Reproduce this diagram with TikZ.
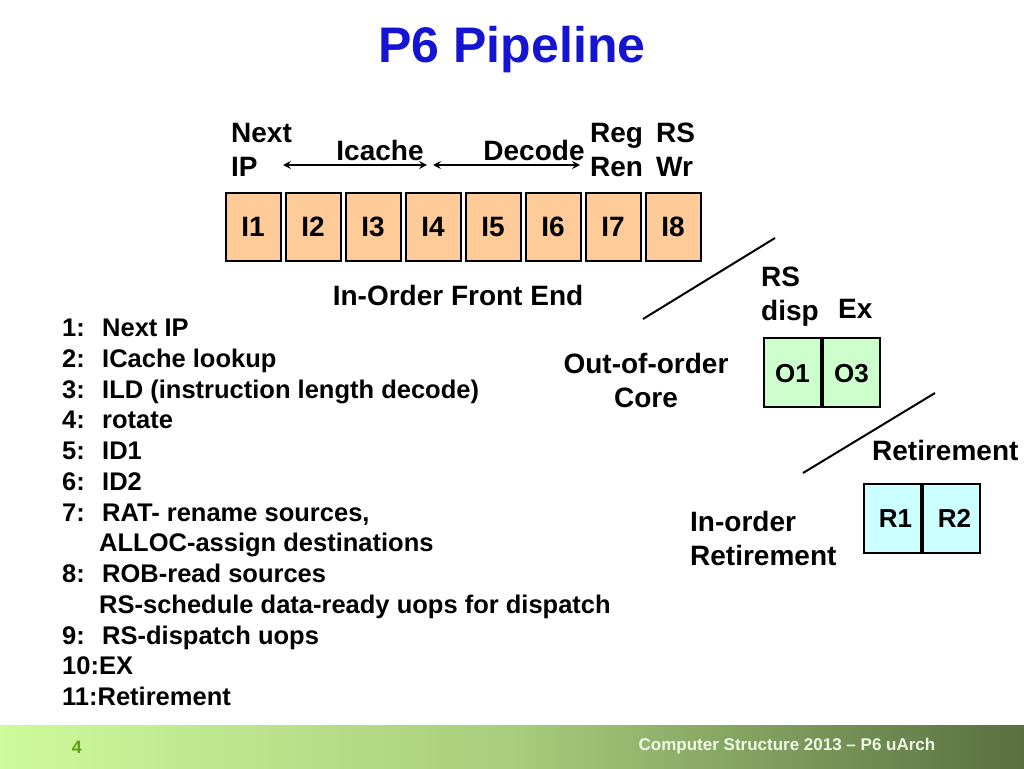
\documentclass[tikz,border=0pt]{standalone}
\usepackage{fontspec}
\setmainfont{Liberation Sans}
\usetikzlibrary{positioning,arrows.meta}
\definecolor{peach}{RGB}{255,204,153}
\definecolor{mint}{RGB}{204,255,204}
\definecolor{icecyan}{RGB}{204,255,255}
\definecolor{titleblue}{RGB}{20,20,210}
\definecolor{footleft}{RGB}{205,250,155}
\definecolor{footmid}{RGB}{168,205,125}
\definecolor{footright}{RGB}{88,112,64}
\definecolor{pagegreen}{RGB}{95,160,20}
\definecolor{foottext}{RGB}{240,248,230}
\tikzset{
  lbl/.style={font=\fontsize{28}{34}\selectfont\bfseries, inner sep=0pt, align=left},
  ibox/.style={draw, line width=2pt, fill=peach, minimum width=55, minimum height=68,
    inner sep=0pt, text height=20pt, text depth=0pt, font=\fontsize{28}{34}\selectfont\bfseries},
  obox/.style={draw, line width=2pt, minimum width=57, minimum height=69,
    inner sep=0pt, text height=19pt, text depth=0pt, font=\fontsize{26}{30}\selectfont\bfseries},
  span/.style={{Stealth[length=8pt,width=8pt,inset=3pt]}-{Stealth[length=8pt,width=8pt,inset=3pt]},
    line width=1.2pt},
}
\newcommand{\stagenum}[1]{\makebox[40pt][l]{#1}}

\begin{document}
\begin{tikzpicture}[x=1pt,y=-1pt]
  \useasboundingbox (0,0) rectangle (1024,768);
  % footer band
  \shade[left color=footleft, right color=footright, middle color=footmid]
    (0,725) rectangle (1024,768);
  \node[text=pagegreen, font=\fontsize{18}{20}\selectfont\bfseries] (pagenum) at (77,747) {4};
  \node[text=foottext, font=\fontsize{17}{20}\selectfont\bfseries] (foot) at (787,746)
    {Computer Structure 2013 -- P6 uArch};

  \node[text=titleblue, font=\fontsize{50}{56}\selectfont\bfseries] (title) at (512,50) {P6 Pipeline};

  % in-order front end
  \foreach \n in {1,...,8}
    \node[ibox] (i\n) at (253+60*\n-60,226.5) {I\n};
  \node[lbl, anchor=west] (nextip) at (231,150) {Next\\IP};
  \node[lbl] (icache) at (380,150) {Icache};
  \node[lbl] (decode) at (534,150) {Decode};
  \node[lbl, anchor=west] (regren) at (590,150) {Reg\\Ren};
  \node[lbl, anchor=west] (rswr) at (656,150) {RS\\Wr};
  \coordinate (ica) at (283,165);
  \coordinate (icb) at (427,165);
  \coordinate (dca) at (433,165);
  \coordinate (dcb) at (580,165);
  \draw[span] (ica) -- (icb);
  \draw[span] (dca) -- (dcb);
  \node[lbl] (frontend) at (458,295) {In-Order Front End};

  % out-of-order core
  \coordinate (cuta) at (643,319);
  \coordinate (cutb) at (775,238);
  \draw[line width=2pt] (cuta) -- (cutb);
  \node[lbl, anchor=west] (rsdisp) at (761,297) {RS\\disp};
  \node[lbl, anchor=west] (ex) at (838,309) {Ex};
  \node[obox, fill=mint] (o1) at (792.5,372.5) {O1};
  \node[obox, fill=mint, right=0pt of o1] (o3) {O3};
  \node[lbl, align=center] (ooo) at (646,380) {Out-of-order\\Core};

  % in-order retirement
  \coordinate (cutc) at (803,473);
  \coordinate (cutd) at (935,393);
  \draw[line width=2pt] (cutc) -- (cutd);
  \node[lbl, anchor=west] (retire) at (872,450) {Retirement};
  \node[obox, fill=icecyan] (r1) at (892.5,518) {\hspace*{6pt}R1};
  \node[obox, fill=icecyan, right=0pt of r1] (r2) {\hspace*{6pt}R2};
  \node[lbl, anchor=west] (inorder) at (690,538) {In-order\\Retirement};

  % stage list
  \node[font=\fontsize{25.5}{30.75}\selectfont\bfseries, inner sep=0pt, align=left,
    anchor=west] (stages) at (62,512.5) {%
    \stagenum{1:}Next IP\\
    \stagenum{2:}ICache lookup\\
    \stagenum{3:}ILD (instruction length decode)\\
    \stagenum{4:}rotate\\
    \stagenum{5:}ID1\\
    \stagenum{6:}ID2\\
    \stagenum{7:}RAT- rename sources,\\
    \hspace*{37pt}ALLOC-assign destinations\\
    \stagenum{8:}ROB-read sources\\
    \hspace*{37pt}RS-schedule data-ready uops for dispatch\\
    \stagenum{9:}RS-dispatch uops\\
    10:EX\\
    11:Retirement};
\end{tikzpicture}
\end{document}
